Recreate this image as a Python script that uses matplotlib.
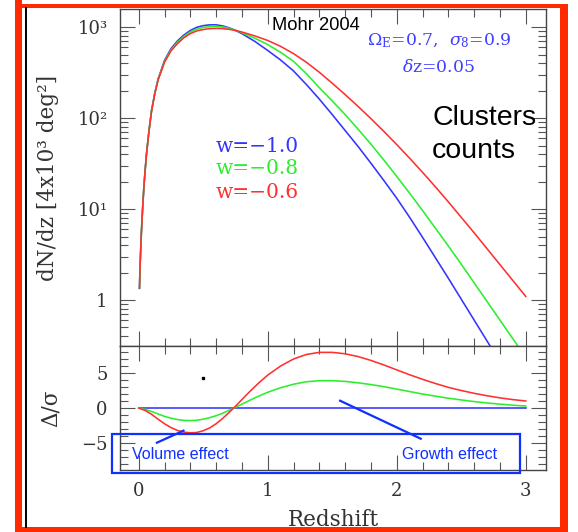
import matplotlib
matplotlib.use('Agg')
import numpy as np
import matplotlib.pyplot as plt
from matplotlib.patches import Rectangle
from matplotlib.lines import Line2D
from matplotlib.ticker import MultipleLocator, LogLocator, FixedLocator, FixedFormatter, NullFormatter

# ---------------- data ----------------
# top panel: log10(dN/dz) per redshift
z_top = [0.006, 0.01, 0.02, 0.03, 0.04, 0.05, 0.06, 0.08, 0.1, 0.125, 0.15, 0.2, 0.25, 0.3,
         0.35, 0.4, 0.45, 0.5, 0.55, 0.6, 0.65, 0.7, 0.75, 0.8, 0.9, 1.0, 1.1, 1.2, 1.3,
         1.4, 1.5, 1.6, 1.7, 1.8, 1.9, 2.0, 2.1, 2.2, 2.3, 2.4, 2.5, 2.6, 2.7, 2.8, 2.9, 3.0]
log_dndz_w10 = [0.13, 0.35, 0.72, 1.0, 1.24, 1.43, 1.6, 1.87, 2.09, 2.28, 2.43, 2.635, 2.765, 2.85,
                2.915, 2.965, 3.0, 3.018, 3.027, 3.027, 3.015, 2.995, 2.965, 2.93, 2.845, 2.745, 2.64, 2.52, 2.37,
                2.21, 2.04, 1.865, 1.69, 1.505, 1.315, 1.12, 0.91, 0.69, 0.465, 0.24, 0.01, -0.22, -0.45, -0.68, -0.91, -1.14]
log_dndz_w08 = [0.13, 0.35, 0.72, 1.0, 1.24, 1.43, 1.6, 1.865, 2.085, 2.275, 2.425, 2.625, 2.752, 2.835,
                2.9, 2.948, 2.98, 2.998, 3.007, 3.01, 3.003, 2.99, 2.968, 2.94, 2.88, 2.81, 2.725, 2.625, 2.49,
                2.335, 2.19, 2.04, 1.88, 1.715, 1.54, 1.36, 1.175, 0.985, 0.79, 0.595, 0.395, 0.19, -0.015, -0.22, -0.425, -0.63]
log_dndz_w06 = [0.13, 0.35, 0.72, 1.0, 1.24, 1.43, 1.6, 1.86, 2.08, 2.268, 2.418, 2.615, 2.74, 2.82,
                2.885, 2.93, 2.96, 2.975, 2.985, 2.988, 2.985, 2.978, 2.965, 2.948, 2.905, 2.855, 2.79, 2.71, 2.615,
                2.505, 2.385, 2.26, 2.13, 1.995, 1.855, 1.71, 1.56, 1.405, 1.245, 1.08, 0.91, 0.74, 0.565, 0.39, 0.215, 0.04]

# bottom panel: Delta / sigma
z_bot = [0.0, 0.05, 0.1, 0.15, 0.2, 0.25, 0.3, 0.35, 0.4, 0.45, 0.5, 0.55, 0.6, 0.65, 0.7, 0.75,
         0.8, 0.85, 0.9, 0.95, 1.0, 1.1, 1.2, 1.3, 1.4, 1.5, 1.6, 1.7, 1.8, 1.9, 2.0, 2.1, 2.2,
         2.3, 2.4, 2.5, 2.6, 2.7, 2.8, 2.9, 3.0]
delta_w10 = [0.0] * len(z_bot)
delta_w08 = [0.0, -0.2, -0.5, -0.85, -1.2, -1.45, -1.65, -1.77, -1.8, -1.75, -1.6, -1.38, -1.1, -0.75, -0.33, 0.1,
             0.55, 1.0, 1.45, 1.85, 2.25, 2.9, 3.4, 3.75, 3.9, 3.9, 3.8, 3.6, 3.35, 3.05, 2.7, 2.35, 2.0,
             1.7, 1.4, 1.15, 0.92, 0.72, 0.55, 0.4, 0.28]
delta_w06 = [0.0, -0.35, -0.9, -1.6, -2.25, -2.8, -3.2, -3.45, -3.55, -3.5, -3.25, -2.85, -2.25, -1.5, -0.65, 0.25,
             1.2, 2.15, 3.05, 3.9, 4.7, 6.0, 7.0, 7.65, 7.95, 7.95, 7.75, 7.35, 6.8, 6.15, 5.45, 4.75, 4.1,
             3.5, 2.95, 2.5, 2.1, 1.75, 1.45, 1.2, 1.0]

labels_w = ['w=\u22121.0', 'w=\u22120.8', 'w=\u22120.6']
colors = ['#3434ff', '#2bef2b', '#ff3030']

x_ticks = [0, 1, 2, 3]
top_ticks = [1, 10, 100, 1000]
top_ticklabels = ['1', '10\u00b9', '10\u00b2', '10\u00b3']
bot_ticks = [-5, 0, 5]

# ---------------- figure ----------------
W, H = 578, 532
fig = plt.figure(figsize=(W / 100, H / 100), dpi=100)
fig.patch.set_facecolor('white')

serif = 'DejaVu Serif'
plt.rcParams['mathtext.fontset'] = 'dejavuserif'

def fx(px):
    return px / W

def fy(py):
    return 1 - py / H

AW = (546 - 120) / W
ax1 = fig.add_axes([fx(120), fy(346), AW, (346 - 9) / H])
ax2 = fig.add_axes([fx(120), fy(470), AW, (470 - 346) / H])

tick_col = '#555555'
for ax in (ax1, ax2):
    for sp in ax.spines.values():
        sp.set_color('#444444')
        sp.set_linewidth(1.0)
    ax.set_xlim(-0.145, 3.157)
    ax.xaxis.set_major_locator(FixedLocator(x_ticks))
    ax.xaxis.set_minor_locator(MultipleLocator(0.2))
    ax.tick_params(which='both', direction='in', top=True, right=True, color=tick_col, width=0.8)
    ax.tick_params(which='major', length=10.5)
    ax.tick_params(which='minor', length=5.5)

# top panel
for ly, c in zip([log_dndz_w10, log_dndz_w08, log_dndz_w06], colors):
    ax1.plot(z_top, 10 ** np.array(ly), color=c, lw=1.15)
ax1.set_yscale('log')
ax1.set_ylim(10 ** -0.505, 10 ** 3.201)
ax1.yaxis.set_major_locator(FixedLocator(top_ticks))
ax1.yaxis.set_major_formatter(FixedFormatter(top_ticklabels))
ax1.yaxis.set_minor_locator(LogLocator(base=10, subs=range(2, 10), numticks=20))
ax1.yaxis.set_minor_formatter(NullFormatter())
ax1.tick_params(axis='x', labelbottom=False)
ax1.tick_params(axis='y', which='major', labelsize=13, pad=9, labelcolor='#333333')
for lab in ax1.get_yticklabels():
    lab.set_family(serif)
ax1.set_ylabel('dN/dz [4x10\u00b3 deg\u00b2]', family=serif, fontsize=15.5, color='#333333')
ax1.yaxis.set_label_coords((59 - 120) / 426, 0.5)

# texts in top panel
def tpos(px, py):
    return (px - 120) / 426, 1 - (py - 9) / 337

ax1.text(*tpos(272, 26), 'Mohr 2004', transform=ax1.transAxes, family='Liberation Sans',
         fontsize=13.2, color='black', ha='left', va='center')
ax1.text(*tpos(439, 41), r'$\Omega_{\rm E}$=0.7,  $\sigma_{8}$=0.9',
         transform=ax1.transAxes, family=serif, fontsize=12.4, color='#4040ff', ha='center', va='center')
ax1.text(*tpos(439, 67), r'$\delta$z=0.05',
         transform=ax1.transAxes, family=serif, fontsize=12.4, color='#4040ff', ha='center', va='center')
ax1.text(*tpos(432, 118), 'Clusters', transform=ax1.transAxes,
         family='Liberation Sans', fontsize=20.5, color='black', ha='left', va='center')
ax1.text(*tpos(432, 151), 'counts', transform=ax1.transAxes,
         family='Liberation Sans', fontsize=20.5, color='black', ha='left', va='center')
for i, (lab, c) in enumerate(zip(labels_w, colors)):
    ax1.text(*tpos(216, 146 + 23 * i), lab, transform=ax1.transAxes,
             family=serif, fontsize=14.5, color=c, ha='left', va='center')

# bottom panel
for y, c in zip([delta_w10, delta_w08, delta_w06], colors):
    ax2.plot(z_bot, y, color=c, lw=1.15)
ax2.set_ylim(-8.86, 8.86)
ax2.yaxis.set_major_locator(FixedLocator(bot_ticks))
ax2.yaxis.set_minor_locator(MultipleLocator(1))
ax2.tick_params(axis='both', which='major', labelsize=13, labelcolor='#333333')
ax2.tick_params(axis='y', which='major', pad=9)
ax2.tick_params(axis='x', which='major', pad=9)
for lab in ax2.get_yticklabels() + ax2.get_xticklabels():
    lab.set_family(serif)
ax2.set_ylabel('\u0394/\u03c3', family=serif, fontsize=15.5, color='#333333')
ax2.yaxis.set_label_coords((62 - 120) / 426, 0.5)
ax2.set_xlabel('Redshift', family=serif, fontsize=15.5, color='#333333', labelpad=6)

# small black dot
ax2.plot([0.497], [4.33], marker='s', ms=1.6, color='black', mec='black')

# annotations (blue box + pointer lines)
blue = '#1030ff'
ax2.add_patch(Rectangle((-0.205, -9.29), 2.955 + 0.205, -3.71 + 9.29, fill=False,
                        edgecolor=blue, lw=1.6, clip_on=False, zorder=5))
ax2.add_line(Line2D([0.141, 0.347], [-4.96, -3.24], color=blue, lw=1.6, clip_on=False))
ax2.add_line(Line2D([1.561, 2.186], [1.04, -4.39], color=blue, lw=1.6, clip_on=False))
ax2.text(-0.05, -6.65, 'Volume effect', family='Liberation Sans', fontsize=11.5,
         color=blue, ha='left', va='center')
ax2.text(2.04, -6.65, 'Growth effect', family='Liberation Sans', fontsize=11.5,
         color=blue, ha='left', va='center')

# slide frame: red border and black vertical line
red = '#ff2a00'
fig.patches.append(Rectangle((fx(15), fy(532)), (22 - 15) / W, 1, transform=fig.transFigure,
                             facecolor=red, edgecolor='none'))
fig.patches.append(Rectangle((fx(560), fy(532)), (568 - 560) / W, fy(4) - fy(532), transform=fig.transFigure,
                             facecolor=red, edgecolor='none'))
fig.patches.append(Rectangle((fx(15), fy(8)), (568 - 15) / W, 4 / H, transform=fig.transFigure,
                             facecolor=red, edgecolor='none'))
fig.patches.append(Rectangle((fx(15), fy(532)), (568 - 15) / W, 5 / H, transform=fig.transFigure,
                             facecolor=red, edgecolor='none'))
fig.lines.append(Line2D([fx(26), fx(26)], [fy(8), fy(527)], transform=fig.transFigure,
                        color='black', lw=1.4))

fig.savefig('out.png', dpi=100, facecolor='white')
